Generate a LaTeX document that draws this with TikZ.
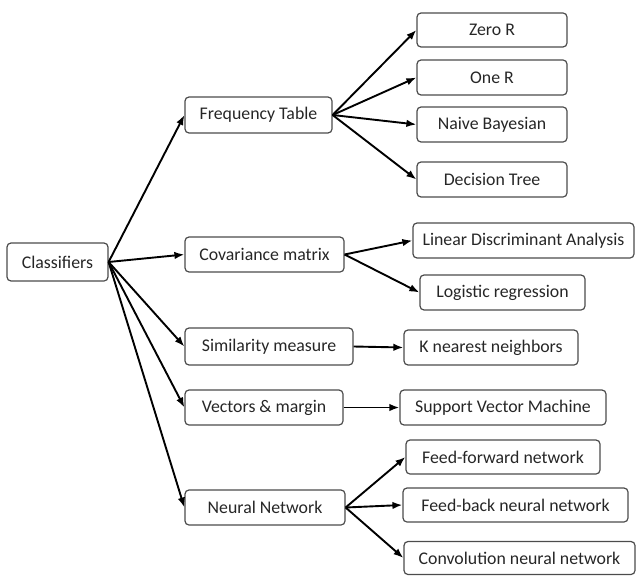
\documentclass[tikz,border=0pt]{standalone}
\usepackage{fontspec}
\setmainfont{Carlito}
\usetikzlibrary{arrows.meta}
\begin{document}
\begin{tikzpicture}[x=1pt, y=-1pt, >={Latex[length=10pt,width=7.5pt]},
    box/.style={draw=black!70, line width=1.2pt, rounded corners=4pt, inner sep=0pt,
      text=black!85, font=\fontsize{17.8}{20}\selectfont},
    arrow/.style={->, line width=1.9pt}]
    \useasboundingbox (0, 0) rectangle (639, 575);
    % root and first level
    \node[box, minimum width=101, minimum height=38] (cls) at (57.5, 262) {Classifiers};
    \node[box, minimum width=147, minimum height=36] (freq) at (258.5, 115) {Frequency Table};
    \node[box, minimum width=159, minimum height=35] (cov) at (264.5, 254.5) {Covariance matrix};
    \node[box, minimum width=168, minimum height=37] (sim) at (269, 346.5) {Similarity measure};
    \node[box, minimum width=158, minimum height=35] (vec) at (264, 407.5) {Vectors \& margin};
    \node[box, minimum width=160, minimum height=35] (nn) at (265, 507.5) {Neural Network};
    % second level
    \node[box, minimum width=150, minimum height=34] (zero) at (492, 30) {Zero R};
    \node[box, minimum width=150, minimum height=35] (one) at (492, 77.5) {One R};
    \node[box, minimum width=150, minimum height=35] (naive) at (492, 124.5) {Naive Bayesian};
    \node[box, minimum width=150, minimum height=35] (dt) at (492, 179.5) {Decision Tree};
    \node[box, minimum width=221, minimum height=35] (lda) at (523.5, 240.5) {Linear Discriminant Analysis};
    \node[box, minimum width=165, minimum height=35] (log) at (502.5, 292.5) {Logistic regression};
    \node[box, minimum width=174, minimum height=35] (knn) at (491, 347.5) {K nearest neighbors};
    \node[box, minimum width=206, minimum height=35] (svm) at (503, 407.5) {Support Vector Machine};
    \node[box, minimum width=194, minimum height=34] (ff) at (503, 457) {Feed-forward network};
    \node[box, minimum width=225, minimum height=34] (fb) at (515.5, 505) {Feed-back neural network};
    \node[box, minimum width=231, minimum height=33] (conv) at (519.5, 558) {Convolution neural network};
    % arrows
    \foreach \t in {freq, cov, sim, vec, nn}
      \draw[arrow] (cls.east) -- (\t.west);
    \foreach \t in {zero, one, naive, dt}
      \draw[arrow] (freq.east) -- (\t.west);
    \draw[arrow] (cov.east) -- (lda.west);
    \draw[arrow] (cov.east) -- (log.west);
    \draw[arrow] (sim.east) -- (knn.west);
    \draw[arrow] (vec.east) -- (svm.west);
    \foreach \t in {ff, fb, conv}
      \draw[arrow] (nn.east) -- (\t.west);
  \end{tikzpicture}
\end{document}
